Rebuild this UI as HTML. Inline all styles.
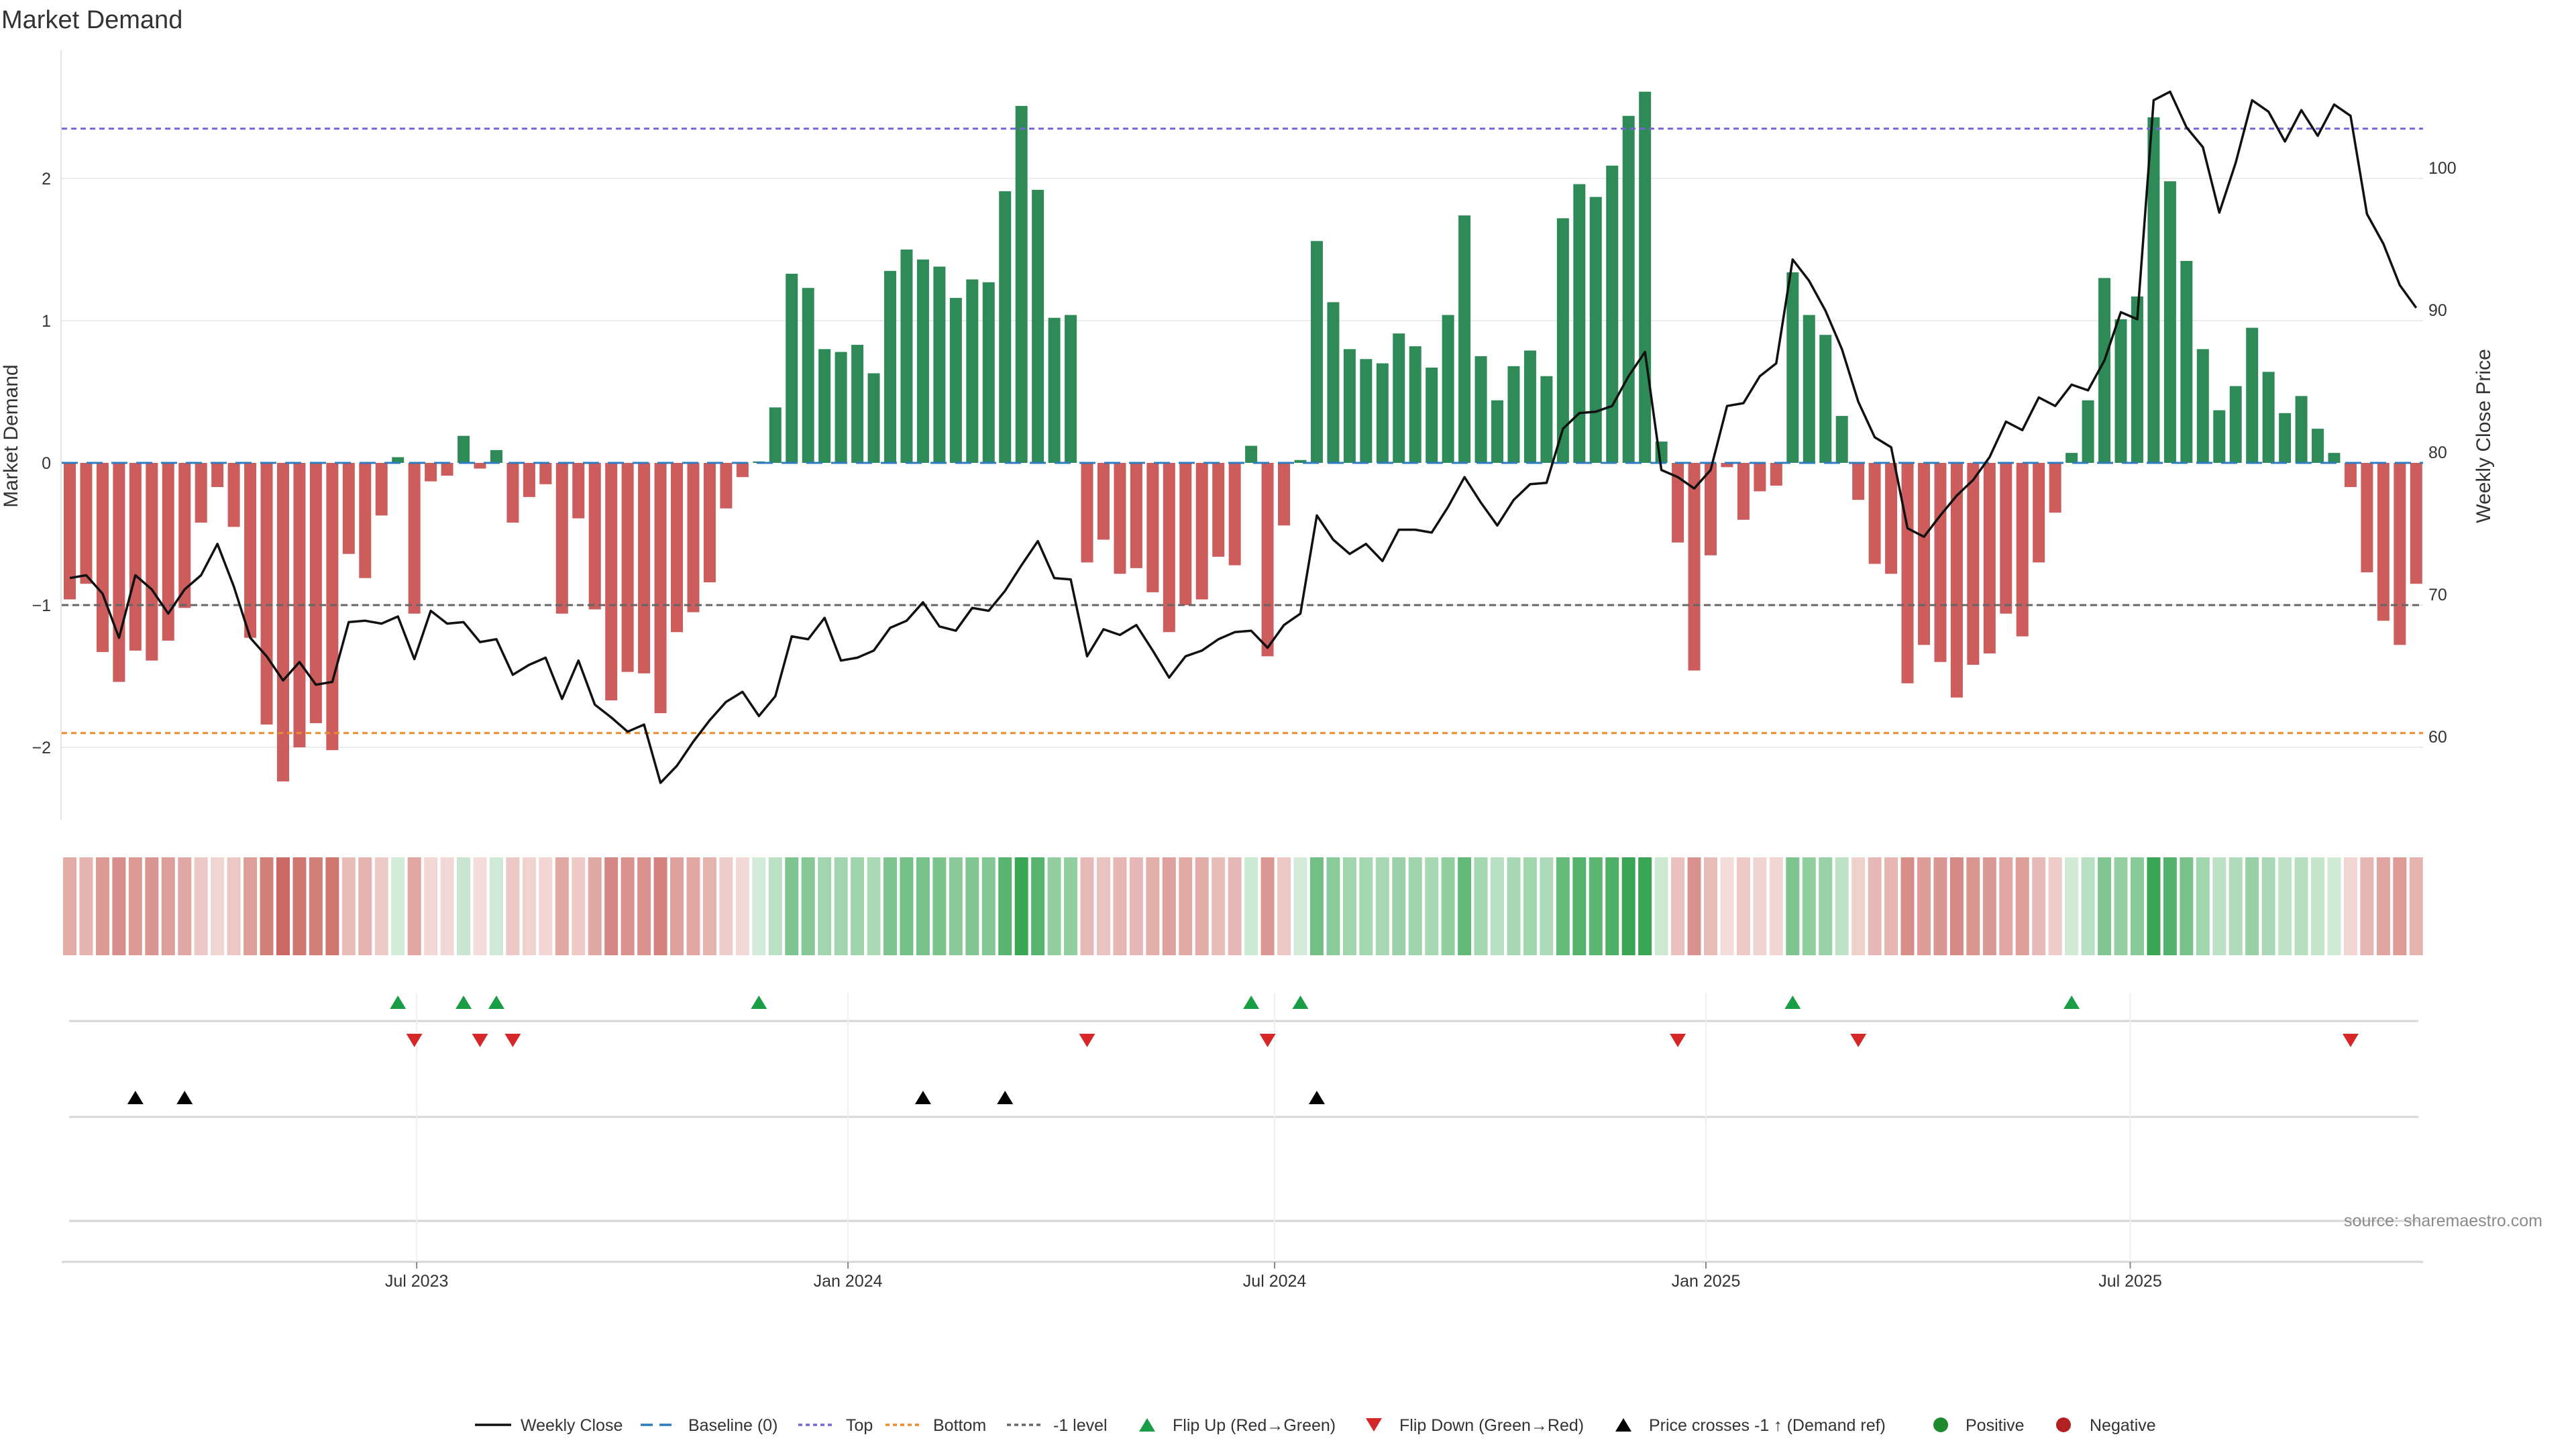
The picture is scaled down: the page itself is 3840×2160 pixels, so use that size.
<!DOCTYPE html>
<html><head><meta charset="utf-8"><title>Market Demand</title>
<style>
html,body{margin:0;padding:0;background:#fff;}
svg{display:block;font-family:"Liberation Sans","DejaVu Sans",sans-serif;}
</style></head>
<body>
<svg id="chart" xmlns="http://www.w3.org/2000/svg" width="3840" height="2160" viewBox="0 0 3840 2160">
<rect width="3840" height="2160" fill="#fff"/>
<text x="2" y="42" font-size="38" fill="#333">Market Demand</text>
<g id="grid"></g><g id="bars"></g><g id="refs"></g><g id="line"></g><g id="axes"></g>
<g id="heat"></g><g id="events"></g><g id="legend"></g>
<text transform="translate(26,650) rotate(-90)" text-anchor="middle" font-size="30" fill="#333">Market Demand</text>
<text transform="translate(3712,650) rotate(-90)" text-anchor="middle" font-size="30" fill="#333">Weekly Close Price</text>
<text x="3790" y="1828" text-anchor="end" font-size="25" fill="#8a8a8a">source: sharemaestro.com</text>
</svg>
<script>
const startDate = "2023-02-03";
const demandValues = [-0.96,-0.85,-1.33,-1.54,-1.32,-1.39,-1.25,-1.02,-0.42,-0.17,
-0.45,-1.23,-1.84,-2.24,-2.0,-1.83,-2.02,-0.64,-0.81,-0.37,
0.04,-1.06,-0.13,-0.09,0.19,-0.04,0.09,-0.42,-0.24,-0.15,
-1.06,-0.39,-1.03,-1.67,-1.47,-1.48,-1.76,-1.19,-1.05,-0.84,
-0.32,-0.10,0.01,0.39,1.33,1.23,0.80,0.78,0.83,0.63,
1.35,1.50,1.43,1.38,1.16,1.29,1.27,1.91,2.51,1.92,
1.02,1.04,-0.70,-0.54,-0.78,-0.74,-0.91,-1.19,-1.00,-0.96,
-0.66,-0.72,0.12,-1.36,-0.44,0.02,1.56,1.13,0.80,0.73,
0.70,0.91,0.82,0.67,1.04,1.74,0.75,0.44,0.68,0.79,
0.61,1.72,1.96,1.87,2.09,2.44,2.61,0.15,-0.56,-1.46,
-0.65,-0.03,-0.40,-0.20,-0.16,1.34,1.04,0.90,0.33,-0.26,
-0.71,-0.78,-1.55,-1.28,-1.40,-1.65,-1.42,-1.34,-1.06,-1.22,
-0.70,-0.35,0.07,0.44,1.30,1.01,1.17,2.43,1.98,1.42,
0.80,0.37,0.54,0.95,0.64,0.35,0.47,0.24,0.07,-0.17,
-0.77,-1.11,-1.28,-0.85];
const closePrices = [71.9,72.1,70.8,67.7,72.1,71.1,69.4,71.1,72.1,74.3,
71.3,67.7,66.4,64.7,66.0,64.4,64.6,68.8,68.9,68.7,
69.2,66.2,69.6,68.7,68.8,67.4,67.6,65.1,65.8,66.3,
63.4,66.1,63.0,62.1,61.1,61.6,57.5,58.7,60.4,61.9,
63.2,63.9,62.2,63.6,67.8,67.6,69.1,66.1,66.3,66.8,
68.4,68.9,70.2,68.5,68.2,69.8,69.6,71.0,72.8,74.5,
71.9,71.8,66.4,68.3,67.9,68.6,66.8,64.9,66.4,66.8,
67.6,68.1,68.2,67.0,68.6,69.4,76.3,74.6,73.6,74.3,
73.1,75.3,75.3,75.1,76.9,79.0,77.2,75.6,77.4,78.5,
78.6,82.4,83.5,83.6,84.0,86.1,87.8,79.5,79.0,78.2,
79.5,84.0,84.2,86.1,87.0,94.3,92.8,90.7,88.0,84.3,
81.8,81.1,75.4,74.8,76.3,77.7,78.8,80.4,82.9,82.3,
84.6,84.0,85.5,85.1,87.2,90.6,90.1,105.5,106.1,103.6,
102.2,97.6,101.1,105.5,104.7,102.6,104.8,103.0,105.2,104.4,
97.5,95.4,92.5,90.9];
const demandTicks = [-2,-1,0,1,2];
const demandTickLabels = ["\u22122","\u22121","0","1","2"];
const priceTicks = [60,70,80,90,100];
const topLevel = 2.35;
const bottomLevel = -1.9;
const minusOneLevel = -1;
const priceRef = 70;
const xTickDates = ["2023-07-01","2024-01-01","2024-07-01","2025-01-01","2025-07-01"];
const xTickLabels = ["Jul 2023","Jan 2024","Jul 2024","Jan 2025","Jul 2025"];

const NS="http://www.w3.org/2000/svg";
const X0=104, STEP=24.46, Y0=690, UNIT=212, PUNIT=21.2;
const xIdx=i=>X0+i*STEP;
const xDate=d=>X0+((new Date(d+"T00:00:00Z")-new Date(startDate+"T00:00:00Z"))/86400000/7)*STEP;
const yD=v=>Y0-v*UNIT;
const yP=p=>Y0-(p-80)*PUNIT;
function mk(tag,attrs,parent){const e=document.createElementNS(NS,tag);for(const k in attrs)e.setAttribute(k,attrs[k]);parent.appendChild(e);return e;}
const G=id=>document.getElementById(id);
const XL=92, XR=3612;
const HEAT_Y=1278, HEAT_H=146, UP_Y=1494, LINE1=1522, DOWN_Y=1551, CROSS_Y=1636, LINE2=1665, LINE3=1820, XAXIS=1881;

demandTicks.forEach((t,i)=>{
  if(t!==0){const l=mk("line",{x1:XL,x2:XR,y1:yD(t),y2:yD(t),stroke:"#ececec","stroke-width":2},G("grid"));
  
  }
  const tx=mk("text",{x:76,y:yD(t)+9,"text-anchor":"end","font-size":25,fill:"#333"},G("axes"));
  tx.textContent=demandTickLabels[i];
  
  
});
priceTicks.forEach(p=>{
  const tx=mk("text",{x:3620,y:yP(p)-7,"font-size":25,fill:"#333"},G("axes"));
  tx.textContent=String(p);
  
  
});
const la=mk("line",{x1:91,x2:91,y1:75,y2:1222,stroke:"#e4e4e4","stroke-width":2},G("axes"));



function ref(v,color,dash,name){const l=mk("line",{x1:XL,x2:XR,y1:yD(v),y2:yD(v),stroke:color,"stroke-width":3,"stroke-dasharray":dash},G("refs"));
 
 }
ref(topLevel,"#7a63d4","8 6","top-line");
ref(bottomLevel,"#ec8a2e","8 6","bottom-line");
ref(minusOneLevel,"#666","10 6","minus-one-line");

demandValues.forEach((v,i)=>{
  const y=Math.min(yD(v),Y0), h=Math.abs(yD(v)-Y0);
  const r=mk("rect",{x:xIdx(i)-9,y:y,width:18,height:Math.max(h,0.5),fill:v>=0?"#2e8b57":"#cd5c5c"},G("bars"));
  
  
});
const bl=mk("line",{x1:XL,x2:XR,y1:Y0,y2:Y0,stroke:"#2f7bbf","stroke-width":3,"stroke-dasharray":"24 13"},G("refs"));



const pl=mk("polyline",{points:closePrices.map((p,i)=>xIdx(i).toFixed(1)+","+yP(p).toFixed(1)).join(" "),fill:"none",stroke:"#111","stroke-width":3.5,"stroke-linejoin":"round"},G("line"));



function mix(a,b,t){return "rgb("+a.map((c,k)=>Math.round(c+(b[k]-c)*t)).join(",")+")";}
demandValues.forEach((v,i)=>{
  const t=Math.min(Math.abs(v)/2.4,1);
  const col=v>=0?mix([212,236,218],[58,166,85],t):mix([244,222,220],[200,98,92],t);
  const c=mk("rect",{x:xIdx(i)-10,y:HEAT_Y,width:20,height:HEAT_H,fill:col},G("heat"));
  
  
});

[LINE1,LINE2,LINE3].forEach(y=>{const l=mk("line",{x1:103,x2:3605,y1:y,y2:y,stroke:"#d6d6d6","stroke-width":3},G("events"));
 
 });
const xa=mk("line",{x1:XL,x2:XR,y1:XAXIS,y2:XAXIS,stroke:"#d6d6d6","stroke-width":3},G("events"));


xTickDates.forEach((d,i)=>{
  const x=xDate(d);
  const g=mk("line",{x1:x,x2:x,y1:1480,y2:XAXIS,stroke:"#efefef","stroke-width":2},G("events"));
  
  
  const tk=mk("line",{x1:x,x2:x,y1:XAXIS,y2:XAXIS+10,stroke:"#888","stroke-width":2},G("events"));
  
  
  const tx=mk("text",{x:x,y:XAXIS+37,"text-anchor":"middle","font-size":25,fill:"#333"},G("events"));
  tx.textContent=xTickLabels[i];
  
  
});
function tri(x,y,up,color){
  const p=up?`${x-12},${y+10} ${x+12},${y+10} ${x},${y-10}`:`${x-12},${y-10} ${x+12},${y-10} ${x},${y+10}`;
  return mk("polygon",{points:p,fill:color},G("events"));
}
for(let i=1;i<demandValues.length;i++){
  const a=demandValues[i-1],b=demandValues[i];
  if(a<0&&b>=0){const m=tri(xIdx(i),UP_Y,true,"#1a9e45");
    
    }
  if(a>=0&&b<0){const m=tri(xIdx(i),DOWN_Y,false,"#d62728");
    
    }
  if(closePrices[i-1]<priceRef&&closePrices[i]>=priceRef){const m=tri(xIdx(i),CROSS_Y,true,"#000");
    
    }
}

const L=G("legend"), LY=2124;
function ltext(x,s){const t=mk("text",{x:x,y:LY+9,"font-size":25,fill:"#333"},L);t.textContent=s;
 
 }
function lline(x,color,dash,name){const l=mk("line",{x1:x,x2:x+54,y1:LY,y2:LY,stroke:color,"stroke-width":3.5,"stroke-dasharray":dash},L);
 
 }
lline(708,"#111","none","legend-weekly-close");ltext(776,"Weekly Close");
lline(955,"#2f7bbf","18 10","legend-baseline");ltext(1026,"Baseline (0)");
lline(1190,"#7a63d4","6 5","legend-top");ltext(1261,"Top");
lline(1320,"#ec8a2e","6 5","legend-bottom");ltext(1391,"Bottom");
lline(1501,"#666","6 5","legend-minus-one");ltext(1570,"-1 level");
let m;
m=tri(1710,LY,true,"#1a9e45");


ltext(1748,"Flip Up (Red\u2192Green)");
m=tri(2048,LY,false,"#d62728");


ltext(2086,"Flip Down (Green\u2192Red)");
m=tri(2420,LY,true,"#000");


ltext(2458,"Price crosses -1 \u2191 (Demand ref)");
m=mk("circle",{cx:2893,cy:LY,r:11,fill:"#1e8a2e"},L);


ltext(2930,"Positive");
m=mk("circle",{cx:3076,cy:LY,r:11,fill:"#b22222"},L);


ltext(3115,"Negative");
</script>
</body></html>
